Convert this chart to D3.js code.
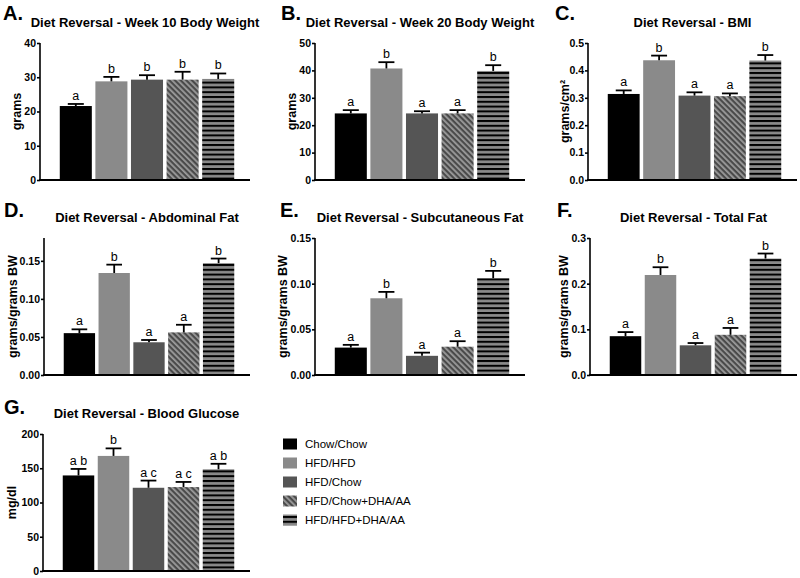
<!DOCTYPE html>
<html><head><meta charset="utf-8">
<script src="https://cdn.jsdelivr.net/npm/d3@7"></script>
<style>body{margin:0;background:#fff}svg{display:block}text{fill:#000}</style>
</head><body>
<svg id="c" width="800" height="578"></svg>
<script>
// ---- data ----
const groups = ["Chow/Chow","HFD/HFD","HFD/Chow","HFD/Chow+DHA/AA","HFD/HFD+DHA/AA"];
const panelLetters = ["A.","B.","C.","D.","E.","F.","G."];
const panelTitles = [
  "Diet Reversal - Week 10 Body Weight",
  "Diet Reversal - Week 20 Body Weight",
  "Diet Reversal - BMI",
  "Diet Reversal - Abdominal Fat",
  "Diet Reversal - Subcutaneous Fat",
  "Diet Reversal - Total Fat",
  "Diet Reversal - Blood Glucose"
];
const yLabels = ["grams","grams","grams/cm²","grams/grams BW","grams/grams BW","grams/grams BW","mg/dl"];
const yMax = [40, 50, 0.5, 0.18, 0.15, 0.3, 200];
const yTicks = [
  [0,10,20,30,40],
  [0,10,20,30,40,50],
  [0,0.1,0.2,0.3,0.4,0.5],
  [0,0.05,0.10,0.15],
  [0,0.05,0.10,0.15],
  [0,0.1,0.2,0.3],
  [0,50,100,150,200]
];
const tickFormats = ["d","d",".1f",".2f",".2f",".1f","d"];
const week10 = [21.6, 28.8, 29.3, 29.3, 29.5];
const week10Err = [22.2, 30.1, 30.6, 31.6, 31.1];
const week20 = [24.3, 40.7, 24.3, 24.3, 39.8];
const week20Err = [25.5, 43.0, 25.1, 25.5, 41.9];
const bmi = [0.314, 0.437, 0.308, 0.306, 0.436];
const bmiErr = [0.327, 0.454, 0.320, 0.316, 0.456];
const abdFat = [0.055, 0.134, 0.043, 0.056, 0.147];
const abdFatErr = [0.060, 0.145, 0.046, 0.066, 0.153];
const subFat = [0.030, 0.084, 0.021, 0.031, 0.106];
const subFatErr = [0.033, 0.091, 0.0245, 0.037, 0.114];
const totFat = [0.085, 0.219, 0.065, 0.088, 0.255];
const totFatErr = [0.094, 0.236, 0.070, 0.103, 0.266];
const glucose = [139.5, 168, 121.5, 122.5, 148.5];
const glucoseErr = [149, 179, 132, 130, 156.5];
const sigA = ["a","b","b","b","b"];
const sigB = ["a","b","a","a","b"];
const sigG = ["a b","b","a c","a c","a b"];

const panelValues = [week10, week20, bmi, abdFat, subFat, totFat, glucose];
const panelErrors = [week10Err, week20Err, bmiErr, abdFatErr, subFatErr, totFatErr, glucoseErr];
const panelSig = [sigA, sigB, sigB, sigB, sigB, sigB, sigG];

// ---- layout ----
const layout = [
  {ax:40, end:250, top:43, bot:180, lx:3, ly:20, ty:27, yl:21},
  {ax:315, end:525, top:43, bot:180, lx:281, ly:20, ty:27, yl:296},
  {ax:588, end:797, top:43, bot:180, lx:555, ly:20, ty:27, yl:569},
  {ax:44, end:250, top:238, bot:375, lx:4, ly:217, ty:222, yl:17},
  {ax:315, end:525, top:238, bot:375, lx:280, ly:217, ty:222, yl:287},
  {ax:590, end:797, top:238, bot:375, lx:557, ly:217, ty:222, yl:568},
  {ax:43, end:250, top:434, bot:571, lx:4, ly:414, ty:418, yl:16}
];
const fills = ["#000000","#8a8a8a","#555555","url(#diag)","url(#hstripe)"];
const FONT = "'Liberation Sans', Arial, Helvetica, sans-serif";

const svg = d3.select("#c").style("font-family", FONT);
const defs = svg.append("defs");
const pd = defs.append("pattern").attr("id","diag").attr("patternUnits","userSpaceOnUse")
  .attr("width",4).attr("height",4).attr("patternTransform","rotate(-45)");
pd.append("rect").attr("width",4).attr("height",4).attr("fill","#4a4a4a");
pd.append("rect").attr("width",1.8).attr("height",4).attr("fill","#9c9c9c");
const ph = defs.append("pattern").attr("id","hstripe").attr("patternUnits","userSpaceOnUse")
  .attr("width",10).attr("height",4.8);
ph.append("rect").attr("width",10).attr("height",4.8).attr("fill","#8a8a8a");
ph.append("rect").attr("width",10).attr("height",2).attr("fill","#000");

panelTitles.forEach((title, i) => {
  const L = layout[i];
  const g = svg.append("g");
  const y = d3.scaleLinear().domain([0, yMax[i]]).range([L.bot, L.top]);
  const x = d3.scaleBand().domain(groups).range([L.ax + 18, L.end - 14])
    .paddingInner(0.1).paddingOuter(0.05);
  const vals = panelValues[i], errs = panelErrors[i], sig = panelSig[i];

  g.append("text").attr("x", L.lx).attr("y", L.ly).attr("font-size", 20)
    .attr("font-weight", "bold").text(panelLetters[i]);
  g.append("text").attr("x", (L.ax + L.end) / 2).attr("y", L.ty)
    .attr("text-anchor", "middle").attr("font-size", 13).attr("font-weight", "bold").text(title);

  // bars
  g.selectAll("rect.bar").data(groups).join("rect").attr("class","bar")
    .attr("x", d => x(d)).attr("width", x.bandwidth())
    .attr("y", (d, j) => y(vals[j])).attr("height", (d, j) => L.bot - y(vals[j]))
    .attr("fill", (d, j) => fills[j]);

  // error bars
  const capW = x.bandwidth() * 0.5;
  groups.forEach((d, j) => {
    const cx = x(d) + x.bandwidth() / 2;
    g.append("line").attr("x1", cx).attr("x2", cx).attr("y1", y(vals[j])).attr("y2", y(errs[j]))
      .attr("stroke", "#000").attr("stroke-width", 1.8);
    g.append("line").attr("x1", cx - capW / 2).attr("x2", cx + capW / 2)
      .attr("y1", y(errs[j])).attr("y2", y(errs[j])).attr("stroke", "#000").attr("stroke-width", 1.8);
    g.append("text").attr("x", cx).attr("y", y(errs[j]) - 4).attr("text-anchor", "middle")
      .attr("font-size", 12.5).attr("fill", "#000").text(sig[j]);
  });

  // y axis
  const yAxis = d3.axisLeft(y).tickValues(yTicks[i]).tickFormat(d3.format(tickFormats[i]))
    .tickSize(3).tickSizeOuter(0).tickPadding(1);
  const ag = g.append("g").attr("transform", `translate(${L.ax},0)`).call(yAxis);
  ag.select(".domain").attr("stroke-width", 1.6).attr("d", `M0,${L.top}V${L.bot}`);
  ag.selectAll(".tick line").attr("stroke-width", 1.6);
  ag.selectAll(".tick text").attr("font-size", 10.5).attr("font-weight", "bold")
    .attr("font-family", FONT).attr("fill", "#000");

  // x axis line
  const xs = d3.scaleLinear().domain([0, 1]).range([L.ax, L.end]);
  g.append("line").attr("x1", xs(0) - 1).attr("x2", xs(1)).attr("y1", L.bot).attr("y2", L.bot)
    .attr("stroke", "#000").attr("stroke-width", 2);

  // y label
  g.append("text").attr("transform", `translate(${L.yl},${(L.top + L.bot) / 2}) rotate(-90)`)
    .attr("text-anchor", "middle").attr("font-size", 12.5).attr("font-weight", "bold").text(yLabels[i]);
});

// legend
const leg = svg.append("g").attr("transform", "translate(283,444)");
const ly = d3.scalePoint().domain(groups).range([0, 76]);
leg.selectAll("rect").data(groups).join("rect")
  .attr("x", 0).attr("y", d => ly(d) - 5.5).attr("width", 14).attr("height", 11)
  .attr("fill", (d, j) => fills[j]);
leg.selectAll("text").data(groups).join("text")
  .attr("x", 22).attr("y", d => ly(d) + 4).attr("font-size", 11.5).attr("fill", "#000").text(d => d);
</script>
</body></html>
